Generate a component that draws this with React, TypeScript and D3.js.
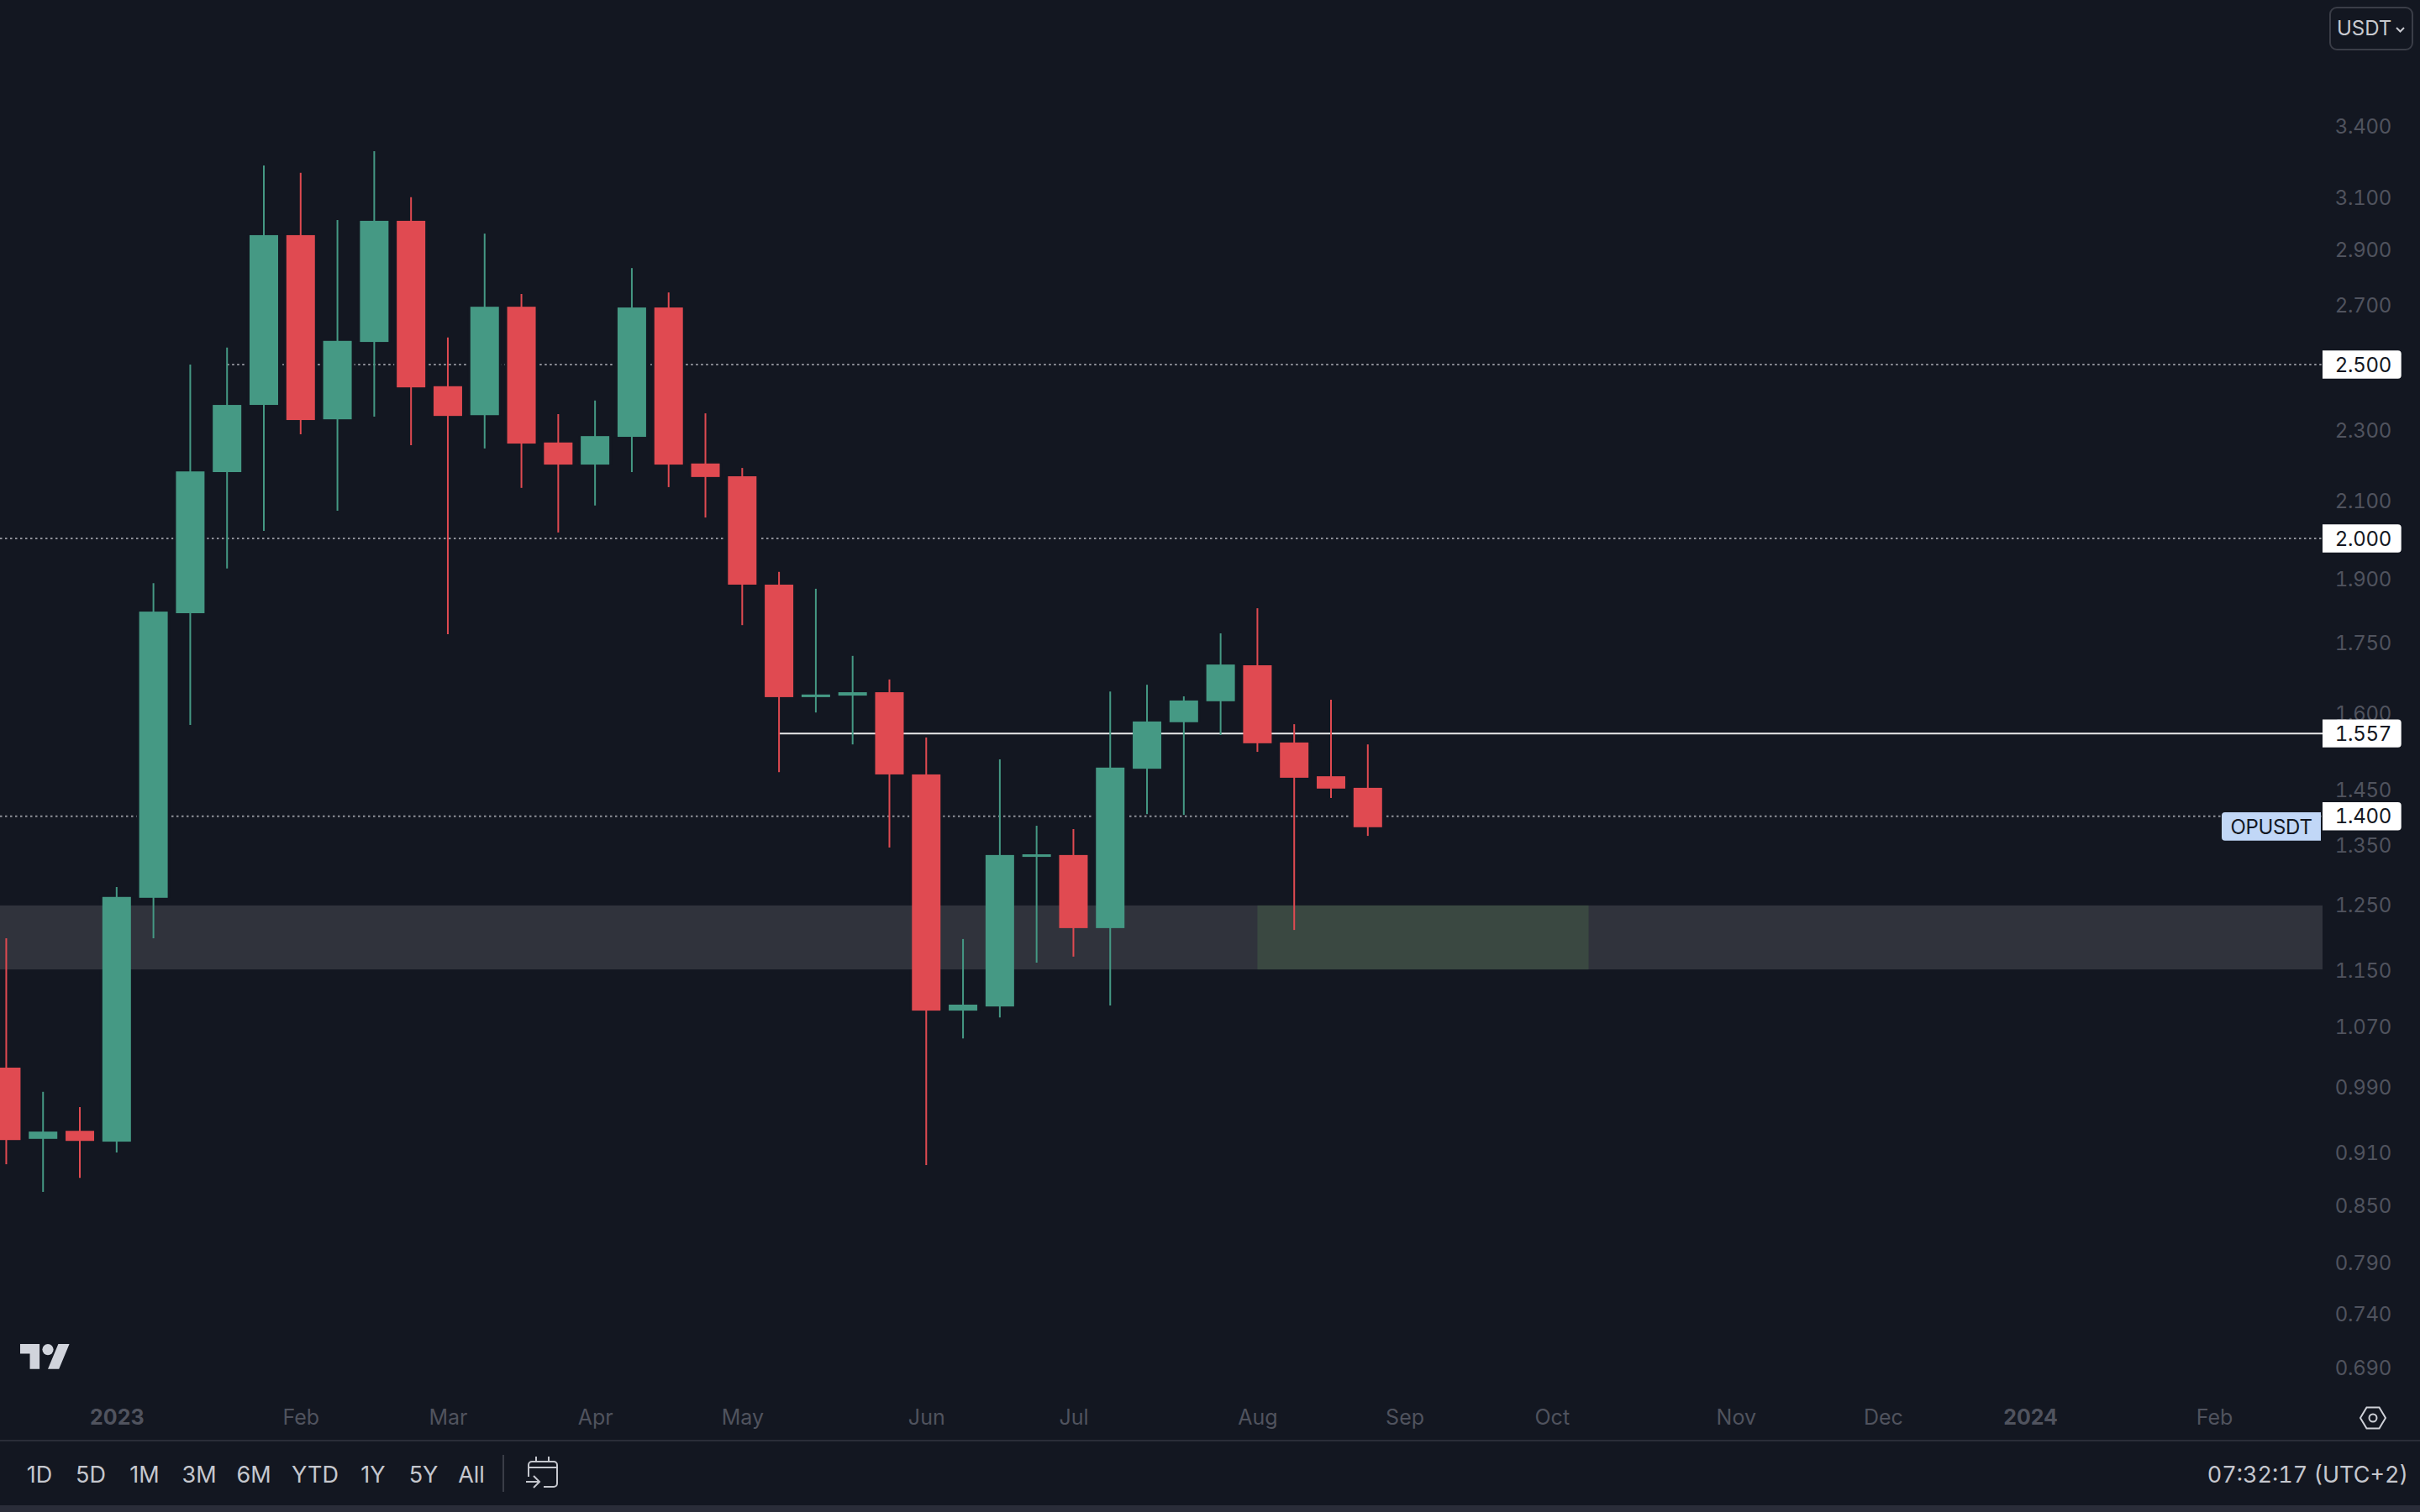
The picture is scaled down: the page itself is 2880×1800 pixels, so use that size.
import { useEffect, useRef } from "react";
import * as d3 from "d3";

// weekly candles, OPUSDT
const opens = [1.0138, 0.9252, 0.9348, 0.9219, 1.2608, 1.8169, 2.1777, 2.3738, 2.952, 2.3304, 2.5737, 3.0067, 2.4315, 2.3428, 2.6927, 2.2621, 2.1988, 2.2785, 2.6901, 2.2019, 2.1661, 1.8847, 1.6313, 1.6345, 1.6416, 1.4772, 1.0908, 1.0966, 1.3288, 1.332, 1.2127, 1.488, 1.5796, 1.6227, 1.6994, 1.539, 1.4737, 1.452];
const highs = [1.197, 0.9828, 0.9637, 1.2785, 1.8884, 2.5004, 2.5552, 3.2285, 3.1976, 3.0096, 3.2882, 3.0992, 2.5885, 2.9578, 2.7372, 2.346, 2.3873, 2.8297, 2.7425, 2.3483, 2.1893, 1.9159, 1.8748, 1.72, 1.6687, 1.5487, 1.1958, 1.506, 1.383, 1.3771, 1.6432, 1.6574, 1.6329, 1.7705, 1.8285, 1.5756, 1.6259, 1.5352];
const lows = [0.8956, 0.8643, 0.88, 0.9091, 1.1968, 1.574, 1.9242, 2.0192, 2.2861, 2.0724, 2.3382, 2.2545, 1.7687, 2.2448, 2.134, 2.0153, 2.0863, 2.1777, 2.1361, 2.0543, 1.7893, 1.4815, 1.5994, 1.5352, 1.3449, 0.8946, 1.0525, 1.0813, 1.1601, 1.1691, 1.0981, 1.4038, 1.4024, 1.5539, 1.5206, 1.2098, 1.4332, 1.3651];
const closes = [0.9238, 0.9339, 0.9228, 1.2622, 1.8206, 2.1796, 2.3738, 2.952, 2.3282, 2.5773, 3.0067, 2.4279, 2.3405, 2.6927, 2.2589, 2.1988, 2.2807, 2.6901, 2.1988, 2.164, 1.8847, 1.6313, 1.6368, 1.6416, 1.4772, 1.0908, 1.0992, 1.332, 1.3332, 1.2127, 1.4902, 1.5811, 1.6243, 1.701, 1.5375, 1.4709, 1.4506, 1.3804];
const barIndex = opens.map((_, i) => i);

const priceTicks = [3.4, 3.1, 2.9, 2.7, 2.3, 2.1, 1.9, 1.75, 1.6, 1.45, 1.35, 1.25, 1.15, 1.07, 0.99, 0.91, 0.85, 0.79, 0.74, 0.69];
const timeTickBars = [3, 8, 12, 16, 20, 25, 29, 34, 38, 42, 47, 51, 55, 60];
const timeTickLabels = ["2023", "Feb", "Mar", "Apr", "May", "Jun", "Jul", "Aug", "Sep", "Oct", "Nov", "Dec", "2024", "Feb"];
const yearLabels = ["2023", "2024"];

const rangeButtons = ["1D", "5D", "1M", "3M", "6M", "YTD", "1Y", "5Y", "All"];
const rangeButtonX = [47, 108, 172, 237, 302, 375, 444, 504, 561];

// dotted levels: price, first bar
const dottedLevels = [2.5, 2.0, 1.4];
const dottedStartBars = [6, -1, -1];
const solidLevel = 1.557;
const solidStartBar = 21;
const zoneTop = 1.2485;
const zoneBottom = 1.15;
const zoneGreenBars = [34, 43];
const boxedLevels = [2.5, 2.0, 1.557, 1.4];

const bg = "#131721";
const up = "#459984";
const down = "#e04a51";
const font = "Inter, 'Noto Sans', sans-serif";

export default function App() {
  const ref = useRef<SVGSVGElement>(null);
  const width = 2880;
  const height = 1800;
  const plotRight = 2764;

  useEffect(() => {
    document.body.style.margin = "0";
    document.body.style.background = bg;
    const svg = d3.select(ref.current);
    svg.selectAll("*").remove();
    svg.style("font-family", font);

    const x = d3.scaleLinear().domain([0, 37]).range([7.44, 1627.8]);
    const y = d3.scaleLog().domain([0.69, 3.4]).range([1627.8, 148.9]);
    const bodyWidth = 34;
    const bodyTop = (i: number) => y(Math.max(opens[i], closes[i]));
    const bodyHeight = (i: number) => Math.abs(y(opens[i]) - y(closes[i]));
    const color = (i: number) => (closes[i] >= opens[i] ? up : down);

    svg.append("rect").attr("width", width).attr("height", height).attr("fill", bg);

    // price axis
    svg
      .append("g")
      .attr("transform", "translate(2846,0.5)")
      .call(d3.axisRight(y).tickValues(priceTicks).tickSize(0).tickFormat(d3.format(".3f")))
      .call((g) => g.select(".domain").remove())
      .call((g) =>
        g
          .selectAll(".tick text")
          .attr("x", 0)
          .attr("dy", "0.36em")
          .attr("text-anchor", "end")
          .attr("fill", "#50535e")
          .style("font-size", "24px")
          .style("font-variant-numeric", "tabular-nums")
          .style("letter-spacing", "-0.3px")
          .style("font-family", font),
      );

    // time axis
    svg
      .append("g")
      .attr("transform", "translate(0,1678.5)")
      .call(
        d3
          .axisBottom(x)
          .tickValues(timeTickBars)
          .tickSize(0)
          .tickFormat((_, i) => timeTickLabels[i]),
      )
      .call((g) => g.select(".domain").remove())
      .call((g) =>
        g
          .selectAll(".tick text")
          .attr("y", 0)
          .attr("dy", "0.71em")
          .attr("fill", "#50535e")
          .style("font-size", "25px")
          .style("font-family", font)
          .style("font-weight", (d, i) => (yearLabels.includes(timeTickLabels[i]) ? 700 : 400)),
      );

    // dotted levels
    svg
      .append("g")
      .selectAll()
      .data(dottedLevels)
      .join("line")
      .attr("x1", (d, i) => (dottedStartBars[i] < 0 ? 0 : x(dottedStartBars[i])))
      .attr("x2", plotRight)
      .attr("y1", (d) => y(d))
      .attr("y2", (d) => y(d))
      .attr("stroke", "#8f9199")
      .attr("stroke-width", 2)
      .attr("stroke-dasharray", "2.5,3.5");

    // candles knock a small gap out of the dotted lines
    svg
      .append("g")
      .selectAll()
      .data(barIndex)
      .join("rect")
      .attr("x", (i) => x(i) - bodyWidth / 2 - 3)
      .attr("y", (i) => bodyTop(i))
      .attr("width", bodyWidth + 6)
      .attr("height", (i) => bodyHeight(i))
      .attr("fill", bg);

    // support zone
    svg
      .append("rect")
      .attr("x", 0)
      .attr("y", y(zoneTop))
      .attr("width", plotRight)
      .attr("height", y(zoneBottom) - y(zoneTop))
      .attr("fill", "#30333c");
    svg
      .append("rect")
      .attr("x", x(zoneGreenBars[0]))
      .attr("y", y(zoneTop))
      .attr("width", x(zoneGreenBars[1]) - x(zoneGreenBars[0]))
      .attr("height", y(zoneBottom) - y(zoneTop))
      .attr("fill", "#3a4841");

    svg
      .append("line")
      .attr("x1", x(solidStartBar))
      .attr("x2", plotRight)
      .attr("y1", y(solidLevel))
      .attr("y2", y(solidLevel))
      .attr("stroke", "#e9e9ea")
      .attr("stroke-width", 2);

    // wicks
    svg
      .append("g")
      .selectAll()
      .data(barIndex)
      .join("line")
      .attr("x1", (i) => x(i))
      .attr("x2", (i) => x(i))
      .attr("y1", (i) => y(highs[i]))
      .attr("y2", (i) => y(lows[i]))
      .attr("stroke", color)
      .attr("stroke-width", 2);

    // bodies
    svg
      .append("g")
      .selectAll()
      .data(barIndex)
      .join("rect")
      .attr("x", (i) => x(i) - bodyWidth / 2)
      .attr("y", (i) => bodyTop(i))
      .attr("width", bodyWidth)
      .attr("height", (i) => bodyHeight(i))
      .attr("fill", color);

    // price labels on the axis
    const boxes = svg.append("g").selectAll().data(boxedLevels).join("g");
    boxes
      .append("path")
      .attr("d", (d) => {
        const t = y(d) - 16.7;
        return `M2764,${t}H2853.7a4,4 0 0 1 4,4V${t + 29.4}a4,4 0 0 1 -4,4H2764Z`;
      })
      .attr("fill", "#ffffff");
    boxes
      .append("text")
      .attr("x", 2846)
      .attr("y", (d) => y(d))
      .attr("dy", "0.36em")
      .attr("text-anchor", "end")
      .attr("fill", "#131722")
      .style("font-size", "24px")
      .style("font-variant-numeric", "tabular-nums")
      .style("letter-spacing", "-0.3px")
      .text((d) => d3.format(".3f")(d));

    // symbol label
    const symbolTop = y(1.4) - 4.7;
    svg
      .append("path")
      .attr("d", `M2648,${symbolTop}H2762V${symbolTop + 33.7}H2648a4,4 0 0 1 -4,-4V${symbolTop + 4}a4,4 0 0 1 4,-4Z`)
      .attr("fill", "#c1d7f7");
    svg
      .append("text")
      .attr("x", 2703)
      .attr("y", symbolTop + 17)
      .attr("dy", "0.36em")
      .attr("text-anchor", "middle")
      .attr("fill", "#131722")
      .style("font-size", "24px")
      .style("letter-spacing", "-0.3px")
      .text("OPUSDT");

    // currency button
    svg
      .append("rect")
      .attr("x", 2773)
      .attr("y", 9)
      .attr("width", 98)
      .attr("height", 50)
      .attr("rx", 8)
      .attr("fill", "none")
      .attr("stroke", "#3a3d47")
      .attr("stroke-width", 2);
    svg
      .append("text")
      .attr("x", 2781)
      .attr("y", 33.5)
      .attr("dy", "0.36em")
      .attr("fill", "#c8cad0")
      .style("font-size", "24px")
      .text("USDT");
    svg
      .append("path")
      .attr("d", "M2852,33l4.5,4.5l4.5,-4.5")
      .attr("fill", "none")
      .attr("stroke", "#c8cad0")
      .attr("stroke-width", 2);

    // logo
    const logo = svg.append("g").attr("transform", "translate(24,1593.4) scale(1.65)").attr("fill", "#d1d4dc");
    logo.append("path").attr("d", "M14 22H7V11H0V4h14v18zM28 22h-8l7.5-18h8L28 22z");
    logo.append("circle").attr("cx", 20).attr("cy", 8).attr("r", 4);

    // settings icon
    svg
      .append("path")
      .attr("d", "M2809,1688L2816.5,1675.5H2831.5L2839,1688L2831.5,1700.5H2816.5Z")
      .attr("fill", "none")
      .attr("stroke", "#cfd1d8")
      .attr("stroke-width", 2);
    svg
      .append("circle")
      .attr("cx", 2824)
      .attr("cy", 1688)
      .attr("r", 4.5)
      .attr("fill", "none")
      .attr("stroke", "#cfd1d8")
      .attr("stroke-width", 2);

    // toolbar
    svg.append("rect").attr("x", 0).attr("y", 1714).attr("width", width).attr("height", 2).attr("fill", "#2a2d38");
    svg.append("rect").attr("x", 0).attr("y", 1792).attr("width", width).attr("height", 8).attr("fill", "#2a2d39");
    svg
      .append("g")
      .selectAll()
      .data(rangeButtons)
      .join("text")
      .attr("x", (d, i) => rangeButtonX[i])
      .attr("y", 1755)
      .attr("dy", "0.36em")
      .attr("text-anchor", "middle")
      .attr("fill", "#c5c7ce")
      .style("font-size", "27px")
      .text((d) => d);
    svg.append("rect").attr("x", 598).attr("y", 1732).attr("width", 2).attr("height", 44).attr("fill", "#3a3d47");

    // calendar icon
    svg
      .append("path")
      .attr(
        "d",
        "M629,1758V1744a4,4 0 0 1 4,-4H659a4,4 0 0 1 4,4V1766a4,4 0 0 1 -4,4H647M629,1747H663M638,1734V1740M653,1734V1740M626,1764H642M635,1757l7,7l-7,7",
      )
      .attr("fill", "none")
      .attr("stroke", "#c5c7ce")
      .attr("stroke-width", 2);

    svg
      .append("text")
      .attr("x", 2866)
      .attr("y", 1755)
      .attr("dy", "0.36em")
      .attr("text-anchor", "end")
      .attr("fill", "#c5c7ce")
      .style("font-size", "27px")
      .style("font-variant-numeric", "tabular-nums")
      .text("07:32:17 (UTC+2)");
  }, []);

  return <svg ref={ref} width={width} height={height} style={{ display: "block" }} />;
}
